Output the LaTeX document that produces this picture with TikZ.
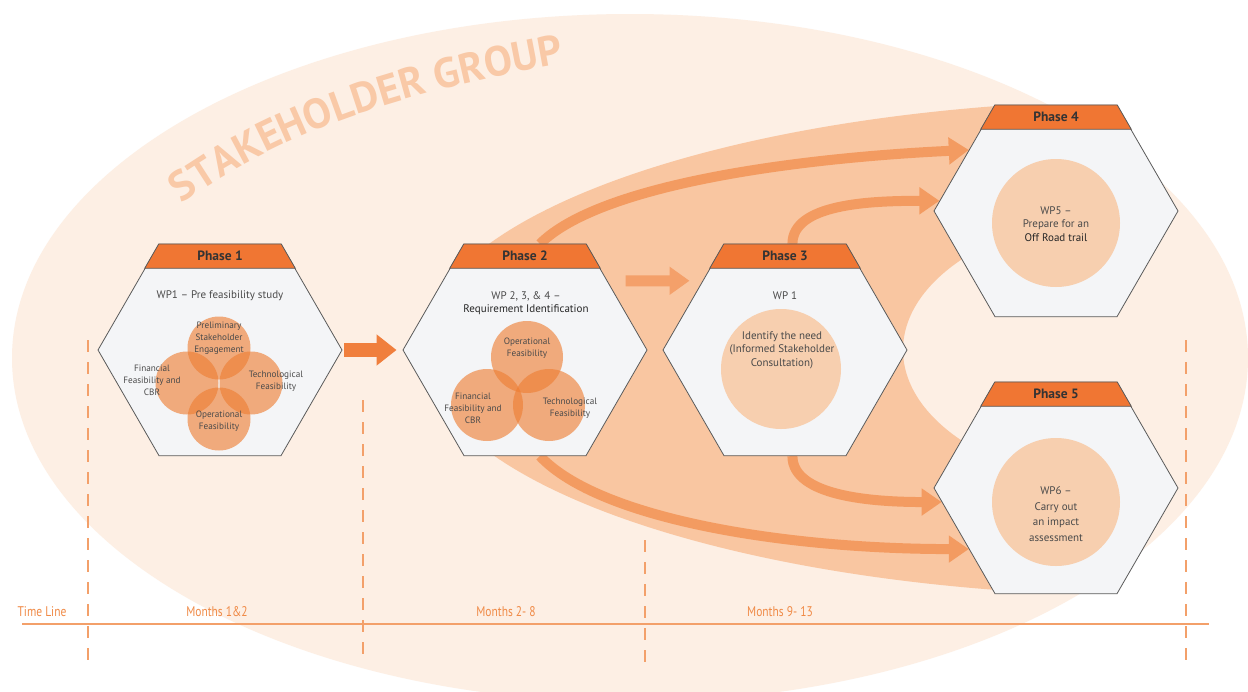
\documentclass[tikz,border=0pt]{standalone}
\usepackage{fontspec}
\setmainfont{PT Sans}
\newfontfamily\narrowfont[FakeStretch=0.82]{PT Sans}
\usetikzlibrary{shapes.geometric,arrows.meta,calc,decorations.text}
\pgfdeclarelayer{back}
\pgfsetlayers{back,main}

\definecolor{groupbg}{HTML}{FDEFE4}
\definecolor{bandbg}{HTML}{F9C6A1}
\definecolor{hexfill}{HTML}{F4F5F7}
\definecolor{hexline}{HTML}{5A5A5A}
\definecolor{headfill}{HTML}{F07633}
\definecolor{venn}{HTML}{EE7D32}
\definecolor{wpcircle}{HTML}{F7CFAF}
\definecolor{flowA}{HTML}{F07F3D}
\definecolor{flowB}{HTML}{F4A06A}
\definecolor{flowC}{HTML}{F39B61}
\definecolor{grouptext}{HTML}{F9C9A7}
\definecolor{timeline}{HTML}{F3A06A}
\definecolor{timetext}{HTML}{F08A46}
\definecolor{bodytext}{HTML}{4A4A4A}

\begin{document}
\begin{tikzpicture}[x=1pt,y=-1pt,
  hexa/.style={regular polygon,regular polygon sides=6,minimum size=244pt,
    inner sep=0pt,draw=hexline,line width=0.8pt,fill=hexfill},
  header/.style={fill=headfill,draw=hexline,line width=0.8pt},
  phasetitle/.style={font=\fontsize{13.5}{13.5}\selectfont\bfseries,text=black!80},
  wptext/.style={font=\fontsize{11}{13.5}\selectfont,text=bodytext,align=center},
  venntext/.style={font=\fontsize{9.2}{12}\selectfont,text=bodytext,align=center},
  vennring/.style={circle,inner sep=0pt,fill=venn,fill opacity=0.62},
  wpring/.style={circle,inner sep=0pt,fill=wpcircle},
  flow/.style={line width=#1,-{Triangle[length=20pt,width=16pt 1]}},
  timelabel/.style={font=\narrowfont\fontsize{14}{14}\selectfont,text=timetext},
  timemark/.style={draw=timeline,line width=1.2pt,dash pattern=on 12pt off 10pt}]
\useasboundingbox (0,0) rectangle (1248,691);

% phases
\node[hexa] (p1) at (220,350) {};
\node[hexa] (p2) at (525,350) {};
\node[hexa] (p3) at (785,350) {};
\node[hexa] (p4) at (1056,211) {};
\node[hexa] (p5) at (1056,488) {};

\foreach \p/\k in {p1/1,p2/2,p3/3,p4/4,p5/5}{
  \filldraw[header] (\p.120) -- (\p.60) -- ($(\p.60)!0.23!(\p.0)$)
    -- ($(\p.120)!0.23!(\p.180)$) -- cycle;
  \node[phasetitle] (t\k) at ($(\p.north)+(0,12)$) {Phase \k};
}

\begin{pgfonlayer}{back}
  \fill[white] (0,0) rectangle (1248,691);
  \begin{scope}
    \clip (0,0) rectangle (1248,691);
    \fill[groupbg] (630,358) ellipse [x radius=618,y radius=344];
  \end{scope}
  % the band behind phases 2 to 5, hollow on the right
  \begin{scope}
    \clip (0,0) rectangle (1000,691);
    \fill[bandbg,even odd rule] (1159,348) ellipse [x radius=738,y radius=248]
      (1150,350) ellipse [x radius=247,y radius=140];
  \end{scope}
  \path[decorate,decoration={text along path,text color=grouptext,
      text={|\fontsize{42}{42}\selectfont\bfseries|STAKEHOLDER GROUP}}]
    (182,204) .. controls (290,124) and (430,84) .. (610,56);
  % arrows
  \draw[flow=14pt,flowA,shorten <=2pt,shorten >=6pt] (p1) -- (p2);
  \draw[flow=11pt,flowB,shorten <=18pt,shorten >=13pt] (p2.40) -- (p3.140);
  \draw[flow=10pt,flowC] (p2.82) .. controls +(60,-60) and +(-170,8) .. (p4.145);
  \draw[flow=10pt,flowC] (p2.278) .. controls +(60,64) and +(-180,0) .. (p5.215);
  \draw[flow=10pt,flowC] (p3.86) .. controls +(0,-40) and +(-70,0) .. (p4.175);
  \draw[flow=10pt,flowC] (p3.274) .. controls +(0,40) and +(-70,0) .. (p5.187);
\end{pgfonlayer}

% phase 1
\node[wptext] (w1) at ($(p1)+(0,-54)$) {WP1 -- Pre feasibility study};
\node[vennring,minimum size=63pt] (c1a) at ($(p1)+(-1,-2)$) {};
\node[vennring,minimum size=63pt] (c1b) at ($(p1)+(-33,33)$) {};
\node[vennring,minimum size=63pt] (c1c) at ($(p1)+(31,33)$) {};
\node[vennring,minimum size=63pt] (c1d) at ($(p1)+(-1,69)$) {};
\node[venntext] (s1a) at ($(p1)+(-1,-12)$) {Preliminary\\Stakeholder\\Engagement};
\node[venntext] (s1b) at ($(p1)+(-68,30)$) {Financial\\Feasibility and\\CBR};
\node[venntext] (s1c) at ($(p1)+(56,31)$) {Technological\\Feasibility};
\node[venntext] (s1d) at ($(p1)+(-1,71)$) {Operational\\Feasibility};

% phase 2
\node[wptext] (w2) at ($(p2)+(1,-47)$) {WP 2, 3, \& 4 --\\\textcolor{black!85}{Requirement Identification}};
\node[vennring,minimum size=72pt] (c2a) at ($(p2)+(2,7)$) {};
\node[vennring,minimum size=72pt] (c2b) at ($(p2)+(-38,55)$) {};
\node[vennring,minimum size=72pt] (c2c) at ($(p2)+(24,55)$) {};
\node[venntext] (s2a) at ($(p2)+(2,-2)$) {Operational\\Feasibility};
\node[venntext] (s2b) at ($(p2)+(-52,58)$) {Financial\\Feasibility and\\CBR};
\node[venntext] (s2c) at ($(p2)+(45,58)$) {Technological\\Feasibility};

% phase 3
\node[wptext] (w3) at ($(p3)+(0,-54)$) {WP 1};
\node[wpring,minimum size=120pt] (c3) at ($(p3)+(-4,19)$) {};
\node[wptext] (s3) at ($(p3)+(-3,0)$) {Identify the need\\(Informed Stakeholder\\Consultation)};

% phases 4 and 5
\node[wpring,minimum size=128pt] (c4) at ($(p4)+(0,12)$) {};
\node[wptext] (s4) at ($(p4)+(0,13)$) {WP5 --\\Prepare for an\\\textcolor{black!85}{Off Road trail}};
\node[wpring,minimum size=128pt] (c5) at ($(p5)+(0,14)$) {};
\node[wptext,font=\fontsize{11}{15.5}\selectfont] (s5) at ($(p5)+(0,26)$) {WP6 --\\Carry out\\an impact\\assessment};

% time line
\draw[timeline,line width=2pt] (22,624) -- (1209,624);
\foreach \x/\y in {88/340,363/400,645/540,1186/340}
  \draw[timemark] (\x,\y) -- (\x,662);
\node[timelabel] (m0) at (42,612) {Time Line};
\node[timelabel] (m1) at (217,612) {Months 1\&2};
\node[timelabel] (m2) at (506,612) {Months 2- 8};
\node[timelabel] (m3) at (780,612) {Months 9- 13};
\end{tikzpicture}
\end{document}
